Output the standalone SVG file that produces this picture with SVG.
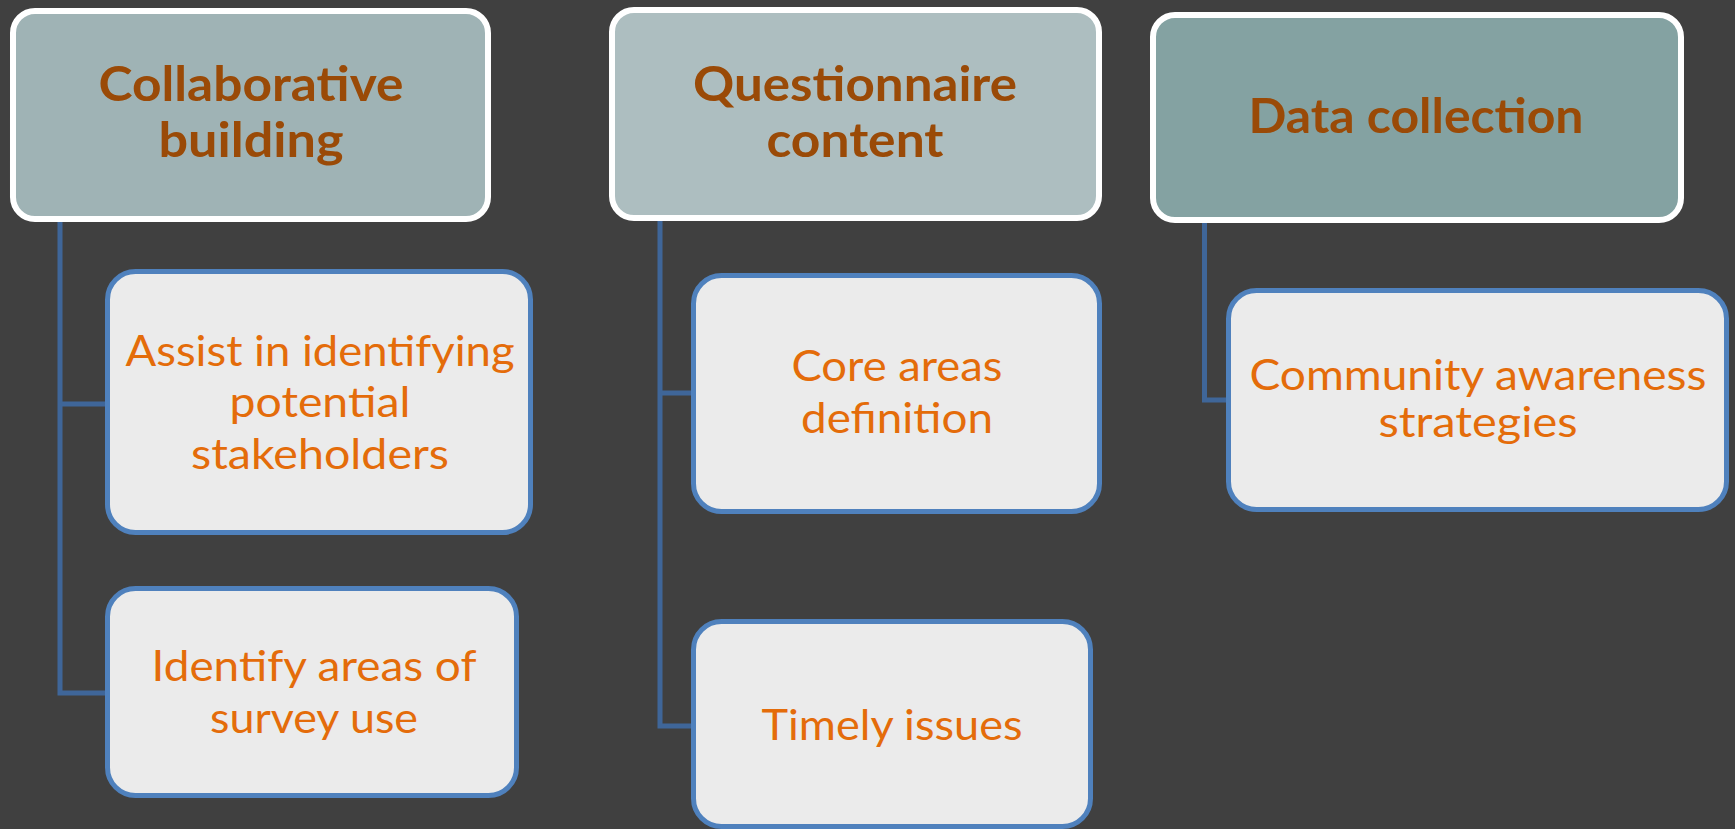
<svg xmlns="http://www.w3.org/2000/svg" width="1735" height="829" viewBox="0 0 1735 829">
<style>
.top{stroke:#FFFFFF;stroke-width:6}
.child{fill:#EBEBEB;stroke:#4F81BD;stroke-width:5}
.conn{fill:none;stroke:#3F6699;stroke-width:5}
.title{font-family:Lato,"Open Sans","Liberation Sans",sans-serif;font-weight:bold;font-size:48px;fill:#9A4A07;text-anchor:middle}
.label{font-family:Lato,"Open Sans","Liberation Sans",sans-serif;font-size:43px;fill:#E46C0A;text-anchor:middle}
</style>
<rect x="0" y="0" width="1735" height="829" fill="#404040"/>
<g id="connectors">
<path class="conn" d="M60 219 V693 H108"/>
<path class="conn" d="M60 404 H108"/>
<path class="conn" d="M660 219 V726 H694"/>
<path class="conn" d="M660 393 H694"/>
<path class="conn" d="M1204.5 221 V400 H1229"/>
</g>
<g id="collaborative-building">
<rect class="top" x="13" y="11" width="475" height="208" rx="22" fill="#9FB3B5"/>
<text class="title" x="251" y="101" textLength="305" lengthAdjust="spacingAndGlyphs">Collaborative</text>
<text class="title" x="251" y="157" textLength="185" lengthAdjust="spacingAndGlyphs">building</text>
</g>
<g id="questionnaire-content">
<rect class="top" x="612" y="10" width="487" height="208" rx="22" fill="#ADBEC0"/>
<text class="title" x="855" y="101" textLength="324" lengthAdjust="spacingAndGlyphs">Questionnaire</text>
<text class="title" x="855" y="157" textLength="177" lengthAdjust="spacingAndGlyphs">content</text>
</g>
<g id="data-collection">
<rect class="top" x="1153" y="15" width="528" height="205" rx="22" fill="#84A2A2"/>
<text class="title" x="1416" y="133" textLength="335" lengthAdjust="spacingAndGlyphs">Data collection</text>
</g>
<g id="assist-stakeholders">
<rect class="child" x="107.5" y="271.5" width="423" height="261" rx="28"/>
<text class="label" x="320" y="366" textLength="389" lengthAdjust="spacingAndGlyphs">Assist in identifying</text>
<text class="label" x="320" y="417" textLength="181" lengthAdjust="spacingAndGlyphs">potential</text>
<text class="label" x="320" y="469" textLength="258" lengthAdjust="spacingAndGlyphs">stakeholders</text>
</g>
<g id="identify-areas">
<rect class="child" x="107.5" y="588.5" width="409" height="207" rx="28"/>
<text class="label" x="314" y="681" textLength="325" lengthAdjust="spacingAndGlyphs">Identify areas of</text>
<text class="label" x="314" y="733" textLength="208" lengthAdjust="spacingAndGlyphs">survey use</text>
</g>
<g id="core-areas">
<rect class="child" x="693.5" y="275.5" width="406" height="236" rx="28"/>
<text class="label" x="897" y="381" textLength="211" lengthAdjust="spacingAndGlyphs">Core areas</text>
<text class="label" x="897" y="433" textLength="192" lengthAdjust="spacingAndGlyphs">definition</text>
</g>
<g id="timely-issues">
<rect class="child" x="693.5" y="621.5" width="397" height="205" rx="28"/>
<text class="label" x="892" y="740" textLength="261" lengthAdjust="spacingAndGlyphs">Timely issues</text>
</g>
<g id="community-awareness">
<rect class="child" x="1228.5" y="290.5" width="498" height="219" rx="28"/>
<text class="label" x="1478" y="390" textLength="457" lengthAdjust="spacingAndGlyphs">Community awareness</text>
<text class="label" x="1478" y="437" textLength="199" lengthAdjust="spacingAndGlyphs">strategies</text>
</g>
</svg>
